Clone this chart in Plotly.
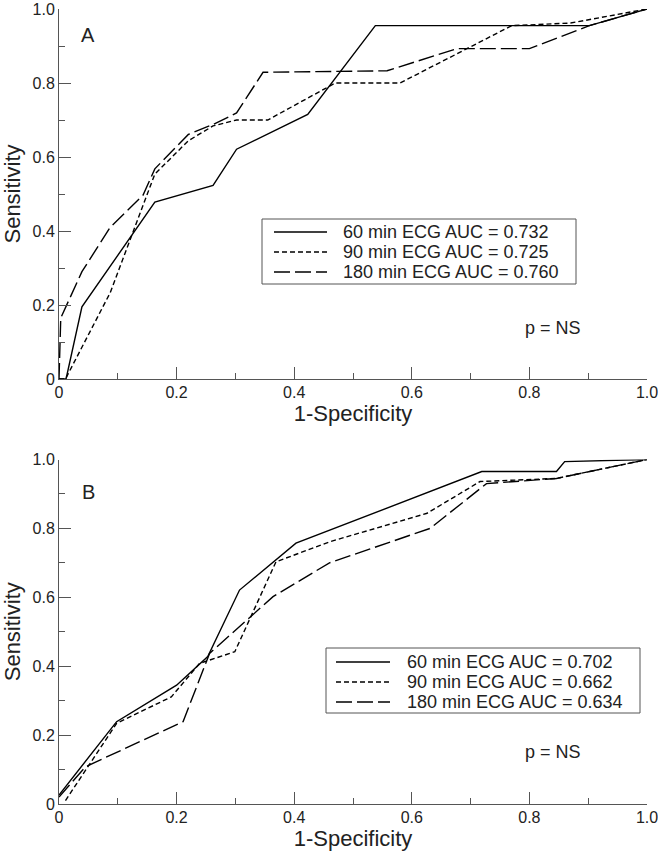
import plotly.graph_objects as go

# Panel A - ROC curves (1-specificity, sensitivity)
a60_x = [0, 0.012, 0.039, 0.163, 0.262, 0.302, 0.423, 0.538, 0.902, 1.0]
a60_y = [0, 0, 0.195, 0.478, 0.523, 0.621, 0.715, 0.955, 0.955, 1.0]
a90_x = [0, 0.011, 0.087, 0.163, 0.220, 0.262, 0.302, 0.355, 0.470, 0.580, 0.770, 0.870, 1.0]
a90_y = [0, 0, 0.233, 0.554, 0.644, 0.684, 0.700, 0.700, 0.800, 0.800, 0.955, 0.962, 1.0]
a180_x = [0, 0.003, 0.039, 0.087, 0.143, 0.163, 0.220, 0.262, 0.302, 0.347, 0.558, 0.677, 0.800, 0.902, 1.0]
a180_y = [0, 0.165, 0.290, 0.410, 0.497, 0.568, 0.661, 0.688, 0.719, 0.829, 0.833, 0.893, 0.893, 0.955, 1.0]

# Panel B
b60_x = [0, 0.098, 0.200, 0.253, 0.307, 0.403, 0.719, 0.846, 0.860, 1.0]
b60_y = [0.026, 0.239, 0.345, 0.428, 0.621, 0.757, 0.965, 0.965, 0.994, 1.0]
b90_x = [0.011, 0.098, 0.191, 0.239, 0.299, 0.369, 0.460, 0.626, 0.716, 0.846, 1.0]
b90_y = [0.010, 0.234, 0.311, 0.408, 0.442, 0.703, 0.761, 0.844, 0.936, 0.945, 1.0]
b180_x = [0, 0.045, 0.211, 0.256, 0.364, 0.460, 0.631, 0.727, 0.846, 1.0]
b180_y = [0.020, 0.108, 0.239, 0.437, 0.602, 0.700, 0.800, 0.930, 0.945, 1.0]

names_a = ["60 min ECG AUC = 0.732", "90 min ECG AUC = 0.725", "180 min ECG AUC = 0.760"]
names_b = ["60 min ECG AUC = 0.702", "90 min ECG AUC = 0.662", "180 min ECG AUC = 0.634"]

tick_vals = [0, 0.2, 0.4, 0.6, 0.8, 1.0]
tick_text = ["0", "0.2", "0.4", "0.6", "0.8", "1.0"]

FONT = "Liberation Sans, Arial, sans-serif"
TXT = "#222"
dashes = ["solid", "5px,3px", "16px,5px"]

W, H = 658, 852
ML, MR, MT, MB = 59, 11, 9, 48


def px2paper(px, py):
    # pixel position on the page -> paper coords
    return (px - ML) / (W - ML - MR), (H - MB - py) / (H - MT - MB)


fig = go.Figure()

for xs, ys, nm, d in zip([a60_x, a90_x, a180_x], [a60_y, a90_y, a180_y], names_a, dashes):
    fig.add_trace(go.Scatter(x=xs, y=ys, name=nm, mode="lines", xaxis="x", yaxis="y",
                             line=dict(color="black", width=1.4, dash=d), showlegend=False))

for xs, ys, nm, d in zip([b60_x, b90_x, b180_x], [b60_y, b90_y, b180_y], names_b, dashes):
    fig.add_trace(go.Scatter(x=xs, y=ys, name=nm, mode="lines", xaxis="x2", yaxis="y2",
                             line=dict(color="black", width=1.4, dash=d), showlegend=False))

axis_style = dict(
    range=[0, 1], showline=True, linecolor="#555", linewidth=1, mirror=False,
    showgrid=False, zeroline=False, ticks="inside", ticklen=12, tickcolor="#555",
    tickvals=tick_vals, ticktext=tick_text, automargin=False, ticklabeloverflow="allow",
    minor=dict(dtick=0.1, ticks="inside", ticklen=6, tickcolor="#555"),
    tickfont=dict(size=16, color=TXT),
)

a_bottom = (H - MB - 379) / (H - MT - MB)
b_top = (H - MB - 459.5) / (H - MT - MB)

fig.update_layout(
    width=W, height=H,
    margin=dict(l=ML, r=MR, t=MT, b=MB),
    plot_bgcolor="white", paper_bgcolor="white",
    font=dict(family=FONT, size=18, color=TXT),
    xaxis=dict(domain=[0, 1], anchor="y", ticklabelstandoff=-1,
               title=dict(text="1-Specificity", standoff=4), **axis_style),
    yaxis=dict(domain=[a_bottom, 1.0], anchor="x", title=dict(text="Sensitivity", standoff=10), **axis_style),
    xaxis2=dict(domain=[0, 1], anchor="y2", ticklabelstandoff=-1,
                title=dict(text="1-Specificity", standoff=4), **axis_style),
    yaxis2=dict(domain=[0, b_top], anchor="x2", title=dict(text="Sensitivity", standoff=10), **axis_style),
    showlegend=False,
)

# hand-drawn legend boxes (match the short row spacing of the original)
legends = [
    dict(box=(262, 219, 576, 284), rows=[232, 252, 272], lx=(274, 327), tx=341, names=names_a),
    dict(box=(326, 648, 640, 713), rows=[662, 682, 702], lx=(336, 390), tx=405, names=names_b),
]
for lg in legends:
    x0, y0 = px2paper(lg["box"][0], lg["box"][3])
    x1, y1 = px2paper(lg["box"][2], lg["box"][1])
    fig.add_shape(type="rect", xref="paper", yref="paper", x0=x0, y0=y0, x1=x1, y1=y1,
                  line=dict(color="#555", width=1), fillcolor="white", layer="above")
    for row, nm, d in zip(lg["rows"], lg["names"], dashes):
        sx0, sy = px2paper(lg["lx"][0], row)
        sx1, _ = px2paper(lg["lx"][1], row)
        fig.add_shape(type="line", xref="paper", yref="paper", x0=sx0, x1=sx1, y0=sy, y1=sy,
                      line=dict(color="black", width=1.4, dash=d), layer="above")
        tx, _ = px2paper(lg["tx"], row)
        fig.add_annotation(text=nm, x=tx, y=sy, xref="paper", yref="paper", xanchor="left",
                           yanchor="middle", showarrow=False, font=dict(size=18, color=TXT))

fig.add_annotation(text="A", x=0.05, y=0.93, xref="x", yref="y", showarrow=False, font=dict(size=20))
fig.add_annotation(text="p = NS", x=0.84, y=0.139, xref="x", yref="y", showarrow=False, font=dict(size=18))
fig.add_annotation(text="B", x=0.05, y=0.906, xref="x2", yref="y2", showarrow=False, font=dict(size=20))
fig.add_annotation(text="p = NS", x=0.84, y=0.151, xref="x2", yref="y2", showarrow=False, font=dict(size=18))

# page body has an 8px default margin; drop it so the figure sits at the window's corner
fig.write_html("out.html", config={"displayModeBar": False},
               post_script="document.body.style.margin='0';")
